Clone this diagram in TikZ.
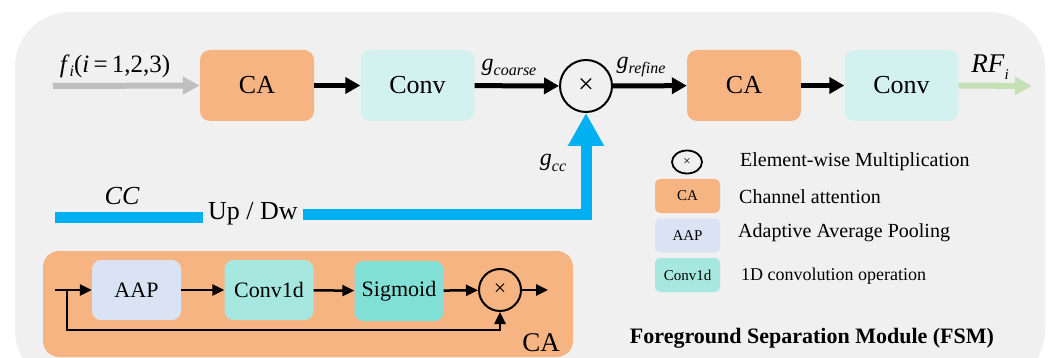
\documentclass[tikz,border=0pt]{standalone}
\usepackage{fontspec}
\setmainfont{Liberation Serif}
\usetikzlibrary{arrows.meta,positioning,shapes.geometric}

\definecolor{bggray}{HTML}{F0F0F0}
\definecolor{caorange}{HTML}{F5B482}
\definecolor{convcyan}{HTML}{D3F2EF}
\definecolor{aapblue}{HTML}{DAE3F3}
\definecolor{convteal}{HTML}{A6E8E0}
\definecolor{sigteal}{HTML}{80E0D6}
\definecolor{ccblue}{HTML}{00B0F0}
\definecolor{ingray}{HTML}{BFBFBF}
\definecolor{outgreen}{HTML}{C5E0B4}

\newcommand{\fsz}[1]{\fontsize{#1}{#1}\selectfont}
\newcommand{\subtxt}[3]{\textit{#1}\raisebox{-#3}{\fsz{16}\itshape #2}}

\begin{document}
\begin{tikzpicture}[x=1pt,y=-1pt,
    bigbox/.style={rounded corners=10pt, minimum width=114pt, minimum height=71pt, font={\fsz{26}}},
    smallbox/.style={rounded corners=9pt, minimum width=89pt, minimum height=60pt, font={\fsz{22}}},
    legbox/.style={rounded corners=5pt, minimum width=65pt, minimum height=34pt, font={\fsz{15}}},
    legtext/.style={anchor=west, inner sep=0pt, font={\fsz{20}}},
    mainarrow/.style={line width=5pt, -{Triangle[length=15pt,width=16pt]}},
    thinarrow/.style={line width=2.5pt, -{Triangle[length=12pt,width=11pt]}}]
    \useasboundingbox (0,0) rectangle (1051,358);
    \clip (0,0) rectangle (1051,358);

    % Module background
    \fill[bggray, rounded corners=55pt] (15,12) rectangle (1045,385);

    % Main path
    \node[bigbox, fill=caorange] (ca1) at (257,85.5) {CA};
    \node[bigbox, fill=convcyan] (conv1) at (417.5,85.5) {Conv};
    \node[draw, circle, line width=2pt, minimum size=52pt, inner sep=0pt, font={\fsz{28}}] (mul) at (586,86) {×};
    \node[bigbox, fill=caorange] (ca2) at (744,85.5) {CA};
    \node[bigbox, fill=convcyan] (conv2) at (901.5,85.5) {Conv};

    \coordinate (fin) at (53,86);
    \coordinate (rfout) at (1032,86);
    \draw[line width=6pt, ingray, -{Triangle[length=17pt,width=17pt]}] (fin) -- (ca1.west);
    \draw[mainarrow] (ca1) -- (conv1);
    \draw[mainarrow] (conv1) -- (mul);
    \draw[mainarrow] (mul) -- (ca2);
    \draw[mainarrow] (ca2) -- (conv2);
    \draw[line width=6pt, outgreen, -{Triangle[length=17pt,width=17pt]}] (conv2.east) -- (rfout);

    \node[font={\fsz{25}}] (flabel) at (115,66) {\textit{f}\raisebox{-4pt}{\fsz{16}\itshape i}(\textit{i}\,=\,1,2,3)};
    \node[font={\fsz{24}}] (gcoarse) at (509,67) {\subtxt{g}{coarse}{5pt}};
    \node[font={\fsz{24}}] (grefine) at (641,67) {\subtxt{g}{refine}{5pt}};
    \node[font={\fsz{27}}] (rflabel) at (990,67) {\textit{RF}\raisebox{-7pt}{\fsz{15}\itshape i}};

    % Cross-scale branch
    \coordinate (ccstart) at (55,217);
    \node[font={\fsz{26}}, inner xsep=5pt, inner ysep=0pt] (updw) at (253,214) {Up / Dw};
    \draw[line width=11pt, ccblue] (ccstart) -- (updw.west |- ccstart);
    \draw[line width=11pt, ccblue, -{Triangle[length=33pt,width=34pt]}] (updw.east) -| (mul.south);
    \node[font={\fsz{26}\itshape}] (cclabel) at (122,196) {CC};
    \node[font={\fsz{24}}] (gcc) at (553,163) {\subtxt{g}{cc}{6pt}};

    % Channel attention detail
    \node[fill=caorange, rounded corners=16pt, minimum width=530pt, minimum height=106pt] (cabox) at (308,304) {};
    \node[font={\fsz{27}}] (calabel) at (541,343) {CA};
    \node[smallbox, fill=aapblue] (aap) at (136.5,290) {AAP};
    \node[smallbox, fill=convteal] (c1d) at (269,290) {Conv1d};
    \node[smallbox, fill=sigteal] (sig) at (399,291) {Sigmoid};
    \node[draw, circle, line width=2pt, minimum size=42pt, inner sep=0pt, font={\fsz{22}}] (mul2) at (500,290) {×};
    \coordinate (cain) at (55,290);
    \coordinate (casplit) at (67,290);
    \coordinate (cabottom) at (67,330);
    \coordinate (caout) at (548,290);
    \draw[thinarrow] (cain) -- (aap);
    \draw[thinarrow] (aap) -- (c1d);
    \draw[thinarrow] (c1d) -- (sig);
    \draw[thinarrow] (sig) -- (mul2);
    \draw[thinarrow] (mul2) -- (caout);
    \draw[thinarrow] (casplit) -- (cabottom) -| (mul2.south);

    % Legend
    \node[draw, ellipse, line width=1.8pt, minimum width=30pt, minimum height=23pt, inner sep=0pt, font={\fsz{13}}] (legmul) at (687,162) {×};
    \node[legbox, fill=caorange] (legca) at (687.5,196) {CA};
    \node[legbox, fill=aapblue] (legaap) at (687.5,235.5) {AAP};
    \node[legbox, fill=convteal] (legc1d) at (687.5,275) {Conv1d};
    \node[legtext] (txtmul) at (740,162) {Element-wise Multiplication};
    \node[legtext] (txtca) at (739,197) {Channel attention};
    \node[legtext] (txtaap) at (738,233) {Adaptive Average Pooling};
    \node[legtext, font={\fsz{18}}] (txtc1d) at (741,276) {1D convolution operation};
    \node[font={\fsz{22}\bfseries}] (title) at (812,338) {Foreground Separation Module (FSM)};
\end{tikzpicture}
\end{document}
